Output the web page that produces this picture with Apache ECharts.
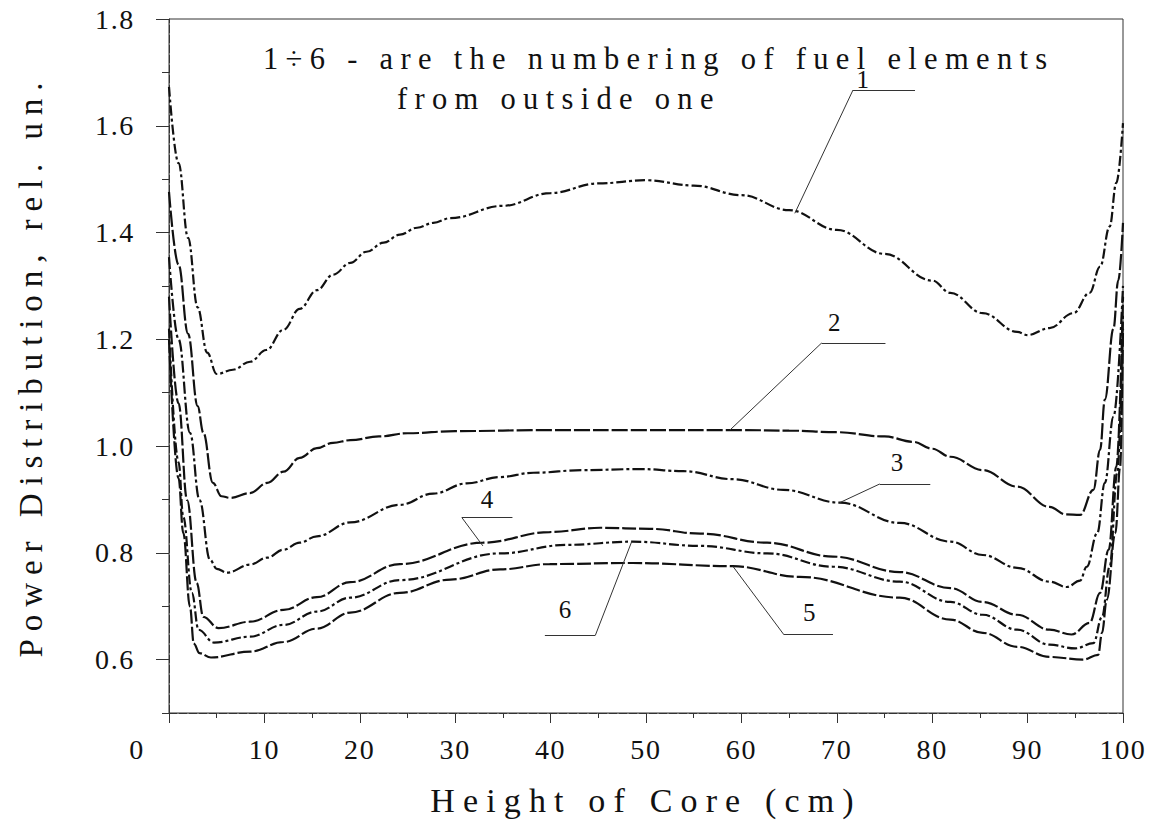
<!DOCTYPE html>
<html>
<head>
<meta charset="utf-8">
<script src="https://cdn.jsdelivr.net/npm/echarts@6.0.0/dist/echarts.min.js"></script>
<style>
  html, body { margin: 0; padding: 0; background: #fff; }
  #chart { width: 1161px; height: 827px; }
</style>
</head>
<body>
<div id="chart"></div>
<script>
// power distribution along core height, [height cm, rel. un.]
const fuel1 = [[0,1.673],[1,1.53],[2,1.39],[3,1.26],[4,1.175],[5,1.135],[6.7,1.143],[8.5,1.158],[10.2,1.18],[12,1.218],[13.7,1.257],[15.5,1.292],[17.2,1.321],[19,1.343],[20.7,1.364],[22.5,1.381],[24.2,1.396],[26,1.409],[27.7,1.418],[29.5,1.427],[35,1.45],[40,1.474],[45,1.492],[50,1.498],[55,1.488],[60,1.47],[65,1.442],[70,1.405],[75,1.36],[80,1.31],[81.9,1.287],[85.3,1.249],[88.9,1.214],[90,1.208],[92.3,1.221],[94.8,1.249],[96.5,1.287],[97.6,1.336],[98.6,1.411],[99.3,1.493],[100,1.605]];
const fuel2 = [[0,1.476],[1,1.34],[2,1.21],[3,1.075],[3.6,1.025],[4.6,0.931],[5.5,0.906],[6.4,0.903],[8.5,0.912],[10.3,0.931],[12,0.952],[13.7,0.978],[15.5,0.996],[17.2,1.006],[19,1.011],[22,1.018],[25,1.024],[30,1.028],[40,1.03],[50,1.03],[60,1.03],[65,1.029],[70,1.026],[75,1.018],[78,1.008],[80,0.995],[81.9,0.98],[85.3,0.955],[88.9,0.924],[92.3,0.886],[94,0.872],[95.5,0.871],[96.9,0.918],[97.6,0.993],[98.1,1.087],[99,1.22],[99.5,1.31],[100,1.418]];
const fuel3 = [[0,1.354],[1,1.2],[2.2,1.025],[3.2,0.899],[4.3,0.787],[5,0.77],[6.1,0.763],[8.5,0.778],[10.3,0.791],[12,0.806],[13.7,0.819],[15.5,0.831],[19,0.857],[24.2,0.89],[27.7,0.911],[31.2,0.93],[34.7,0.942],[38.2,0.95],[43.4,0.955],[49.4,0.957],[53.9,0.953],[59.1,0.938],[64.4,0.918],[70.3,0.894],[76.6,0.856],[81.9,0.821],[85.3,0.796],[88.9,0.772],[92.3,0.746],[94.1,0.736],[95.5,0.748],[96.2,0.774],[97.3,0.837],[98.1,0.931],[99,1.055],[100,1.3]];
const fuel4 = [[0,1.28],[1,1.08],[1.9,0.899],[2.9,0.744],[3.6,0.68],[5.2,0.659],[8.5,0.671],[12,0.693],[15.5,0.717],[19,0.745],[24.2,0.779],[32.9,0.819],[39.9,0.839],[45.2,0.847],[50.4,0.845],[55.7,0.836],[62.7,0.819],[69.6,0.793],[76.6,0.764],[81.9,0.734],[85.3,0.708],[88.9,0.684],[92.3,0.656],[94.6,0.647],[96.5,0.669],[97.6,0.725],[98.5,0.806],[99.3,0.961],[100,1.28]];
const fuel5 = [[0,1.2],[1,0.94],[1.5,0.837],[2.2,0.699],[2.6,0.63],[3.2,0.612],[4.4,0.604],[8.5,0.615],[12,0.633],[15.5,0.658],[19,0.688],[24.2,0.725],[29.5,0.75],[34.7,0.769],[39.9,0.779],[48.6,0.781],[59.1,0.775],[66.1,0.755],[76.6,0.716],[81.9,0.675],[85.3,0.65],[88.9,0.624],[92.3,0.605],[95.8,0.6],[97.4,0.609],[97.8,0.65],[98.3,0.712],[99.2,0.837],[99.7,0.961],[100,1.22]];
const fuel6 = [[0,1.22],[1,0.97],[1.5,0.867],[2.4,0.725],[3.1,0.656],[4.7,0.632],[8.5,0.643],[12,0.665],[15.5,0.69],[19,0.716],[24.2,0.749],[34.7,0.799],[41.7,0.815],[48.6,0.821],[55.7,0.813],[62.7,0.799],[69.6,0.774],[76.6,0.746],[81.9,0.708],[85.3,0.684],[88.9,0.656],[92.3,0.628],[95,0.621],[96.9,0.631],[97.8,0.68],[98.6,0.774],[99.4,0.95],[100,1.25]];

const curveNames = ["1", "2", "3", "4", "5", "6"];
const curveData = [fuel1, fuel2, fuel3, fuel4, fuel5, fuel6];
const yMajorTicks = [0.6, 0.8, 1.0, 1.2, 1.4, 1.6, 1.8];

// leader lines: number position, point on the curve, elbow, shelf end (data units)
const leaderText  = [[72.8,1.687],[69.8,1.231],[76.4,0.969],[33.4,0.899],[67.2,0.688],[41.6,0.693]];
const leaderTouch = [[65.6,1.436],[58.8,1.030],[70.3,0.894],[32.9,0.813],[59.1,0.775],[48.5,0.821]];
const leaderElbow = [[71.7,1.667],[68.4,1.193],[74.5,0.929],[30.7,0.866],[64.4,0.648],[44.7,0.646]];
const leaderEnd   = [[78.2,1.667],[75.1,1.193],[79.8,0.929],[36.0,0.866],[69.6,0.648],[39.4,0.646]];

const FONT = "'Liberation Serif', 'Times New Roman', serif";
const dashes = [[10,3,3,3],[16,3],[12,3,3,3],[14,3],[14,3],[10,3,3,3]];

const chart = echarts.init(document.getElementById("chart"), null, { renderer: "svg" });

// the original plotter font is widely letter-spaced
function spaceLetters() {
  chart.getDom().querySelectorAll("text").forEach((t) => {
    const fs = parseFloat(getComputedStyle(t).fontSize);
    t.style.letterSpacing = fs >= 30 ? "0.24em" : "0.06em";
  });
}
chart.on("finished", spaceLetters);

chart.setOption({
  animation: false,
  backgroundColor: "#fff",
  textStyle: { fontFamily: FONT },
  grid: { left: 169, right: 38, top: 19, bottom: 114, show: true, borderColor: "#333", borderWidth: 1 },
  xAxis: {
    type: "value", min: 0, max: 100, interval: 10,
    name: "Height of Core (cm)", nameLocation: "middle", nameGap: 70,
    nameTextStyle: { fontSize: 34, color: "#111", fontFamily: FONT },
    axisLine: { lineStyle: { color: "#333", width: 1, type: [8, 2] } },
    axisTick: { length: 10, lineStyle: { color: "#333" } },
    minorTick: { show: true, splitNumber: 2, length: 5, lineStyle: { color: "#333" } },
    splitLine: { show: false },
    axisLabel: {
      margin: 22, fontSize: 28, color: "#111", fontFamily: FONT,
      formatter: (v) => (v === 0 ? "{z|0}" : String(v)),
      rich: { z: { fontSize: 28, color: "#111", fontFamily: FONT, padding: [0, 64, 0, 0] } },
    },
  },
  yAxis: [
    {
      type: "value", min: 0.5, max: 1.8, interval: 0.1,
      name: "Power Distribution, rel. un.", nameLocation: "middle", nameGap: 122,
      nameTextStyle: { fontSize: 33, color: "#111", fontFamily: FONT },
      axisLine: { show: true, lineStyle: { color: "#333", width: 1, type: [8, 2] } },
      axisTick: { show: true, length: 13, customValues: yMajorTicks, lineStyle: { color: "#333" } },
      splitLine: { show: false },
      axisLabel: {
        margin: 34, fontSize: 28, color: "#111", fontFamily: FONT,
        customValues: yMajorTicks, formatter: (v) => v.toFixed(1),
      },
    },
    {
      type: "value", min: 0.5, max: 1.8, interval: 0.1, position: "left",
      axisLine: { show: false },
      axisTick: { show: true, length: 7, lineStyle: { color: "#333" } },
      axisLabel: { show: false },
      splitLine: { show: false },
    },
  ],
  graphic: [
    {
      type: "text", left: 263, top: 43, silent: true,
      style: { text: "1\u00f76 - are the numbering of fuel elements", font: "30.5px " + FONT, fill: "#111" },
    },
    {
      type: "text", left: 397, top: 83, silent: true,
      style: { text: "from outside one", font: "30.5px " + FONT, fill: "#111" },
    },
  ],
  series: curveData.map((d, i) => ({
    name: curveNames[i],
    type: "line",
    data: d,
    showSymbol: false,
    silent: true,
    smooth: 0.4,
    smoothMonotone: "x",
    lineStyle: { color: "#111", width: 2.2, type: dashes[i] },
    markLine: {
      silent: true,
      symbol: ["none", "none"],
      label: { show: false },
      lineStyle: { color: "#333", width: 1, type: "solid" },
      data: [
        [{ coord: leaderTouch[i] }, { coord: leaderElbow[i] }],
        [{ coord: leaderElbow[i] }, { coord: leaderEnd[i] }],
      ],
    },
    markPoint: {
      silent: true,
      symbol: "rect",
      symbolSize: 1,
      itemStyle: { color: "rgba(0,0,0,0)" },
      label: { show: true, position: "inside", color: "#111", fontSize: 25, fontFamily: FONT, formatter: curveNames[i] },
      data: [{ coord: leaderText[i] }],
    },
  })),
});
spaceLetters();
</script>
</body>
</html>
